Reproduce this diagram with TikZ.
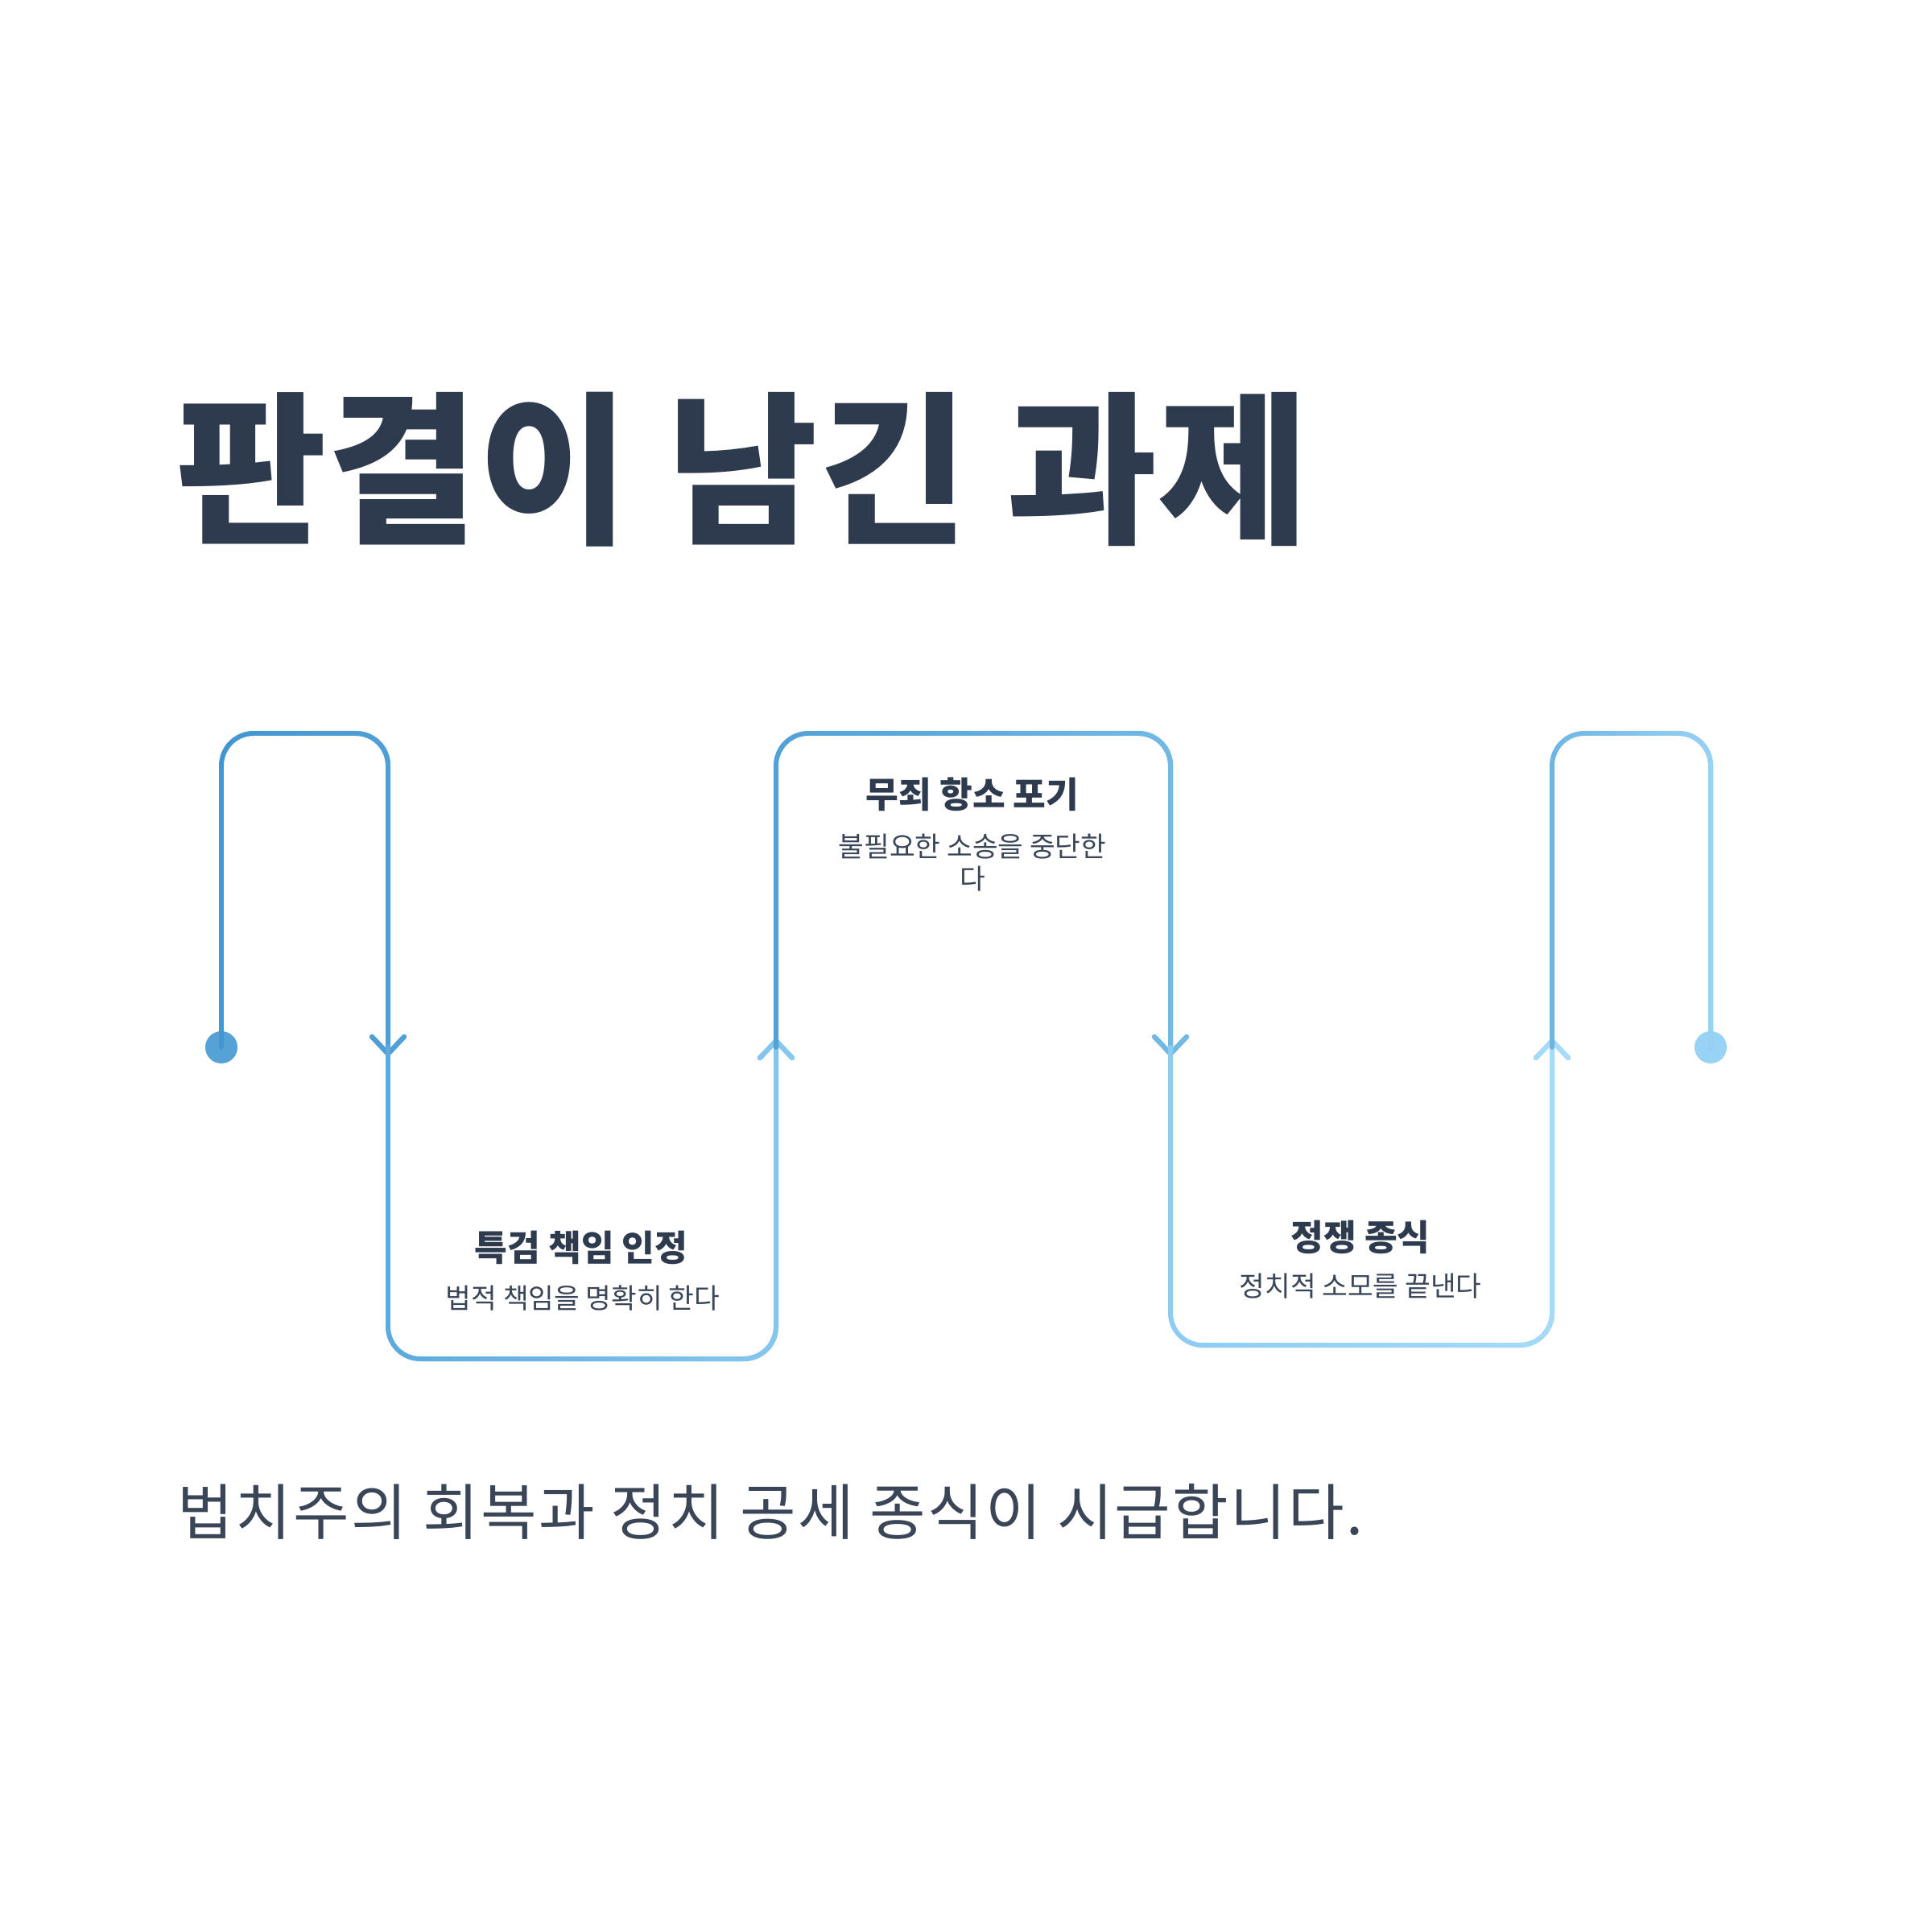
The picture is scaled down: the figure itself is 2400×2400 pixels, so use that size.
\documentclass[tikz,border=0pt]{standalone}
\usepackage{fontspec}
\newfontfamily\krfont{Noto Sans CJK KR}
\usepackage{xcolor}
\usepackage{tikz}
\usetikzlibrary{arrows.meta, fadings}

\definecolor{ink}{HTML}{2E3B4E}
\definecolor{subink}{HTML}{3A4657}
\definecolor{lineA}{HTML}{4397D0}
\definecolor{lineAA}{HTML}{50A0D7}
\definecolor{lineB}{HTML}{5CAADE}
\definecolor{lineBB}{HTML}{86C7EF}
\definecolor{lineC}{HTML}{52A1D7}
\definecolor{lineCC}{HTML}{72B9E6}
\definecolor{lineD}{HTML}{8DCCF2}
\definecolor{lineDD}{HTML}{A6DBFA}
\definecolor{lineE}{HTML}{6FB5E4}
\definecolor{lineEE}{HTML}{98D2F5}

\tikzfading[name=fadein right, left color=transparent!100, right color=transparent!0]

\tikzset{
  track/.style={line width=1.7pt, rounded corners=0.4cm, line cap=round, line join=round},
  arrowed/.style={-{Straight Barb[length=6pt, width=11.4pt, round]}},
  blend/.style={path fading=fadein right},
  dot/.style={circle, minimum size=0.4cm, inner sep=0pt},
  headline/.style={font=\krfont\bfseries\fontsize{58}{64}\selectfont, text=ink, inner sep=0pt},
  cardhead/.style={font=\krfont\bfseries\fontsize{12.6}{15}\selectfont, text=ink, inner sep=0pt},
  cardtext/.style={font=\krfont\fontsize{9.8}{11.4}\selectfont, text=subink, inner sep=0pt, align=center},
  closing/.style={font=\krfont\addfontfeature{LetterSpace=3.2}\fontsize{21.5}{25}\selectfont, text=subink, inner sep=0pt}
}

\begin{document}
\begin{tikzpicture}[x=0.01cm, y=-0.01cm]
    \useasboundingbox[fill=white] (0,0) rectangle (2400,2400);

    % 1. Tieu de
    \node[headline, anchor=west] (title) at (218,583) {판결이 남긴 과제};

    % 2. Diem dau, diem cuoi
    \node[dot, fill=lineA!90!white] (start) at (275,1301) {};
    \node[dot, fill=lineEE] (finish) at (2125,1301) {};

    % 3. Duong uon
    \draw[track, arrowed, lineA] (start.center) -- (275,911) -- (482,911) -- (482,1312);
    \draw[track, arrowed, lineAA, blend] (start.center) -- (275,911) -- (482,911) -- (482,1312);

    \draw[track, arrowed, lineB] (482,1301) -- (482,1688) -- (964,1688) -- (964,1290);
    \draw[track, arrowed, lineBB, blend] (482,1301) -- (482,1688) -- (964,1688) -- (964,1290);

    \draw[track, arrowed, lineC] (964,1301) -- (964,911) -- (1454,911) -- (1454,1312);
    \draw[track, arrowed, lineCC, blend] (964,1301) -- (964,911) -- (1454,911) -- (1454,1312);

    \draw[track, arrowed, lineD] (1454,1301) -- (1454,1671) -- (1928,1671) -- (1928,1290);
    \draw[track, arrowed, lineDD, blend] (1454,1301) -- (1454,1671) -- (1928,1671) -- (1928,1290);

    \draw[track, lineE] (1928,1301) -- (1928,911) -- (2125,911) -- (finish.center);
    \draw[track, lineEE, blend] (1928,1301) -- (1928,911) -- (2125,911) -- (finish.center);

    % 4. Cac buoc
    \node[cardhead] (head1) at (722,1550) {특검 책임 인정};
    \node[cardtext] (text1) at (724,1612) {법적 책임을 명확히 한다};

    \node[cardhead] (head2) at (1208,987) {무죄 항소 포기};
    \node[cardtext] (text2) at (1208,1072) {불필요한 소송을 중단한\\다};

    \node[cardhead] (head3) at (1690,1537) {정쟁 종식};
    \node[cardtext] (text3) at (1690,1598) {정치적 소모를 끝낸다};

    % 5. Ket luan
    \node[closing, anchor=west] (summary) at (220,1878) {법치주의 회복과 정치 공세 종식이 시급합니다.};
\end{tikzpicture}
\end{document}
